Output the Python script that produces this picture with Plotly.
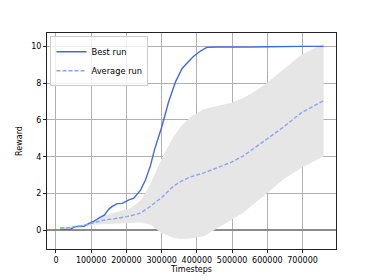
import plotly.graph_objects as go

# Best run
best_steps = [12000, 40000, 55000, 80000, 93000, 108000, 125000, 137000, 150000, 160000,
              174000, 188000, 207000, 221000, 240000, 254000, 268000, 280000, 300000, 320000,
              340000, 358000, 375000, 390000, 410000, 428000, 460000, 490000, 522000, 550000,
              600000, 650000, 700000, 760000]
best_reward = [0.05, 0.05, 0.2, 0.22, 0.36, 0.49, 0.7, 0.82, 1.15, 1.3,
               1.45, 1.46, 1.65, 1.75, 2.18, 2.73, 3.5, 4.4, 5.6, 7.0,
               8.1, 8.8, 9.15, 9.45, 9.75, 9.95, 9.97, 9.97, 9.93, 9.96,
               9.98, 10.0, 10.0, 10.0]

# Average run and spread
avg_steps = [12000, 40000, 80000, 108000, 136000, 174000, 211000, 240000, 268000, 300000,
             334000, 353000, 381000, 420000, 466000, 498000, 532000, 560000, 598000, 645000,
             697000, 760000]
avg_reward = [0.12, 0.15, 0.27, 0.4, 0.55, 0.65, 0.78, 0.93, 1.3, 1.78,
              2.4, 2.64, 2.9, 3.12, 3.45, 3.7, 4.05, 4.45, 4.95, 5.6,
              6.4, 7.05]
upper_reward = [0.18, 0.2, 0.33, 0.5, 0.8, 1.0, 1.2, 1.6, 2.5, 3.9,
                5.1, 5.6, 6.15, 6.6, 6.8, 6.93, 7.2, 7.5, 8.0, 8.75,
                9.55, 10.15]
lower_reward = [0.08, 0.1, 0.22, 0.3, 0.33, 0.38, 0.4, 0.42, 0.3, -0.15,
                -0.42, -0.48, -0.45, -0.32, 0.2, 0.55, 0.95, 1.4, 2.0, 2.75,
                3.4, 4.02]

x_ticks = [0, 100000, 200000, 300000, 400000, 500000, 600000, 700000]
x_tick_labels = ["0", "100000", "200000", "300000", "400000", "500000", "600000", "700000"]
y_ticks = [0, 2, 4, 6, 8, 10]
y_tick_labels = ["0", "2", "4", "6", "8", "10"]

FONT = "DejaVu Sans"

fig = go.Figure()
fig.add_trace(go.Scatter(x=avg_steps, y=lower_reward, mode="lines",
                         line=dict(width=0, color="rgba(0,0,0,0)"),
                         showlegend=False, hoverinfo="skip"))
fig.add_trace(go.Scatter(x=avg_steps, y=upper_reward, mode="lines",
                         line=dict(width=0, color="rgba(0,0,0,0)"),
                         fill="tonexty", fillcolor="#e6e6e6",
                         showlegend=False, hoverinfo="skip"))
fig.add_trace(go.Scatter(x=best_steps, y=best_reward, mode="lines", name="Best run",
                         line=dict(color="#4169e1", width=1.4)))
fig.add_trace(go.Scatter(x=avg_steps, y=avg_reward, mode="lines", name="Average run",
                         line=dict(color="#8da5ed", width=1.4, dash="4px,2px")))

fig.update_layout(
    width=374, height=280,
    margin=dict(l=47, r=38, t=33, b=31),
    paper_bgcolor="white", plot_bgcolor="white",
    font=dict(family=FONT, size=8, color="black"),
    showlegend=True,
    legend=dict(x=0.012, y=0.985, xanchor="left", yanchor="top", traceorder="normal",
                bgcolor="rgba(255,255,255,0.8)", bordercolor="#cccccc", borderwidth=1,
                font=dict(size=8.3), itemwidth=30, tracegroupgap=0),
)
fig.update_xaxes(
    range=[-25500, 795000], tickmode="array", tickvals=x_ticks, ticktext=x_tick_labels,
    showgrid=True, gridcolor="#b0b0b0", gridwidth=1, zeroline=False,
    showline=True, linecolor="#222222", linewidth=1, mirror=True,
    ticks="outside", ticklen=3, tickcolor="#222222", automargin=False,
    title=dict(text="Timesteps", font=dict(size=8), standoff=2),
)
fig.update_yaxes(
    range=[-1.02, 10.73], tickmode="array", tickvals=y_ticks, ticktext=y_tick_labels,
    showgrid=True, gridcolor="#b0b0b0", gridwidth=1,
    zeroline=True, zerolinecolor="#8c8c8c", zerolinewidth=2,
    showline=True, linecolor="#222222", linewidth=1, mirror=True,
    ticks="outside", ticklen=3, tickcolor="#222222", automargin=False,
    title=dict(text="Reward", font=dict(size=8), standoff=7),
)

fig.write_html(
    "out.html",
    config={"displayModeBar": False},
    post_script="document.body.style.margin='0';document.body.style.padding='0';document.documentElement.style.overflow='hidden';",
)
